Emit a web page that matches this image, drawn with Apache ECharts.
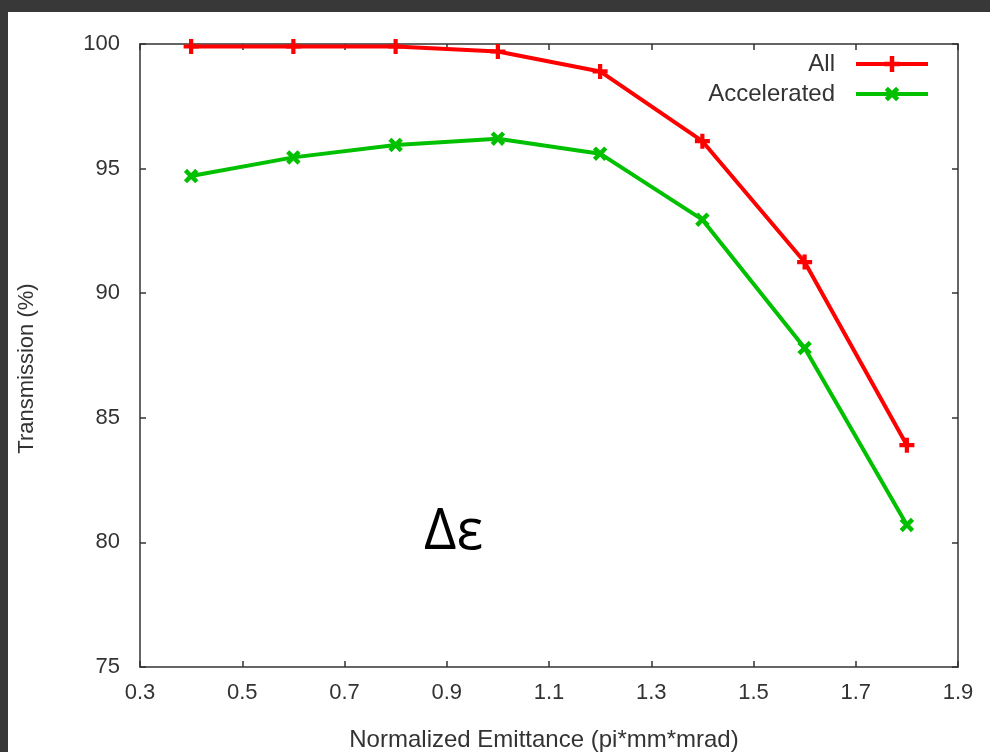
<!DOCTYPE html>
<html>
<head>
<meta charset="utf-8">
<script src="https://cdn.jsdelivr.net/npm/echarts@6/dist/echarts.min.js"></script>
<style>
  html, body { margin: 0; padding: 0; background: #383838; width: 990px; height: 752px; overflow: hidden; }
  #chart { position: absolute; left: 8px; top: 12px; width: 982px; height: 740px; background: #ffffff; }
</style>
</head>
<body>
<div id="chart"></div>
<script>
// Normalized emittance values (pi*mm*mrad)
const emittance = [0.4, 0.6, 0.8, 1.0, 1.2, 1.4, 1.6, 1.8];
// Transmission (%) for all particles
const allTransmission = [99.9, 99.9, 99.9, 99.7, 98.9, 96.1, 91.25, 83.9];
// Transmission (%) for accelerated particles
const acceleratedTransmission = [94.7, 95.45, 95.95, 96.2, 95.6, 92.95, 87.8, 80.7];
const seriesNames = ['All', 'Accelerated'];
const xLabel = 'Normalized Emittance (pi*mm*mrad)';
const yLabel = 'Transmission (%)';

const plusPath = 'path://M3.6,0H6.4V3.6H10V6.4H6.4V10H3.6V6.4H0V3.6H3.6Z';
const axisColor = '#333333';
const textColor = '#333333';
const font = 'Liberation Sans, Arial, sans-serif';

function pairs(xs, ys) { return xs.map((x, i) => [x, ys[i]]); }

const chart = echarts.init(document.getElementById('chart'), null, { renderer: 'canvas' });

const xCommon = {
  type: 'value', min: 0.3, max: 1.9, interval: 0.2,
  axisLine: { show: true, lineStyle: { color: axisColor, width: 1.5 } },
  axisTick: { show: true, inside: true, length: 6, lineStyle: { color: axisColor, width: 1.5 } },
  splitLine: { show: false }
};
const yCommon = {
  type: 'value', min: 75, max: 100, interval: 5,
  axisLine: { show: true, lineStyle: { color: axisColor, width: 1.5 } },
  axisTick: { show: true, inside: true, length: 6, lineStyle: { color: axisColor, width: 1.5 } },
  splitLine: { show: false }
};

chart.setOption({
  animation: false,
  backgroundColor: '#ffffff',
  grid: { left: 132, top: 32, right: 32, bottom: 85, containLabel: false, outerBoundsMode: 'none' },
  legend: {
    orient: 'vertical', right: 55, top: 35, align: 'right',
    itemWidth: 72, itemHeight: 20, itemGap: 6,
    lineStyle: { width: 4 },
    textStyle: { fontFamily: font, fontSize: 24, lineHeight: 24, color: textColor, padding: [0, 16, 0, 0] },
    data: seriesNames
  },
  xAxis: [
    Object.assign({}, xCommon, {
      position: 'bottom',
      name: xLabel, nameLocation: 'middle', nameGap: 61,
      nameTextStyle: { fontFamily: font, fontSize: 24, color: textColor, padding: [0, 10, 0, 0] },
      axisLabel: { fontFamily: font, fontSize: 22, color: textColor, margin: 15,
        formatter: v => v.toFixed(1) }
    }),
    Object.assign({}, xCommon, { position: 'top', axisLabel: { show: false } })
  ],
  yAxis: [
    Object.assign({}, yCommon, {
      position: 'left',
      name: yLabel, nameLocation: 'middle', nameGap: 102,
      nameTextStyle: { fontFamily: font, fontSize: 22, color: textColor, padding: [0, 26, 0, 0] },
      axisLabel: { fontFamily: font, fontSize: 22, color: textColor, margin: 20 }
    }),
    Object.assign({}, yCommon, { position: 'right', axisLabel: { show: false } })
  ],
  graphic: [{
    type: 'text', left: 416, top: 493,
    style: { text: 'Δε', font: '56px "Open Sans", "DejaVu Sans", sans-serif', fill: '#000000' }
  }],
  series: [
    {
      name: seriesNames[0], type: 'line', data: pairs(emittance, allTransmission),
      xAxisIndex: 0, yAxisIndex: 0,
      symbol: plusPath, symbolSize: 15, showAllSymbol: true,
      lineStyle: { color: '#ff0000', width: 4 },
      itemStyle: { color: '#ff0000' }
    },
    {
      name: seriesNames[1], type: 'line', data: pairs(emittance, acceleratedTransmission),
      xAxisIndex: 0, yAxisIndex: 0,
      symbol: plusPath, symbolSize: 16, symbolRotate: 45, showAllSymbol: true,
      lineStyle: { color: '#00c000', width: 4 },
      itemStyle: { color: '#00c000' }
    }
  ]
});
</script>
</body>
</html>
